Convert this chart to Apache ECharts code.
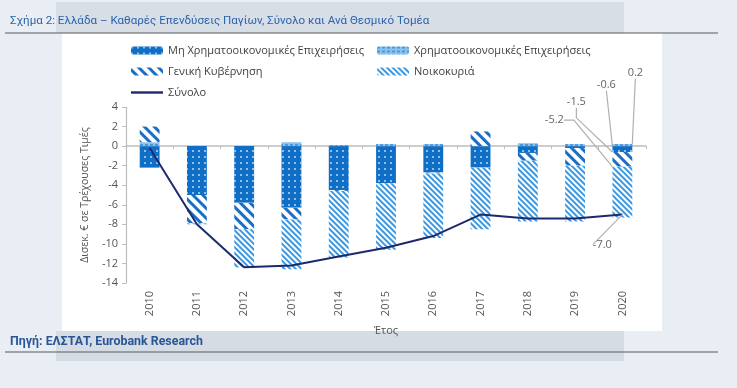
<!DOCTYPE html>
<html><head><meta charset="utf-8">
<script src="https://cdn.jsdelivr.net/npm/echarts@6/dist/echarts.min.js"></script>
<style>html,body{margin:0;padding:0;background:#e9eef5}#c{width:737px;height:388px}</style>
</head><body><div id="c"></div>
<script>
const years = ['2010','2011','2012','2013','2014','2015','2016','2017','2018','2019','2020'];
const nonFinancial = [-2.2,-5.0,-5.8,-6.3,-4.5,-3.8,-2.7,-2.2,-0.7,-0.2,-0.6];
const financial    = [0.4,0.0,0.0,0.4,0.1,0.2,0.2,0.0,0.3,0.2,0.2];
const government   = [1.6,-2.9,-2.7,-1.2,-0.1,0.0,-0.1,1.5,-0.8,-1.8,-1.5];
const households   = [0.0,-0.1,-3.9,-5.1,-6.8,-6.8,-6.6,-6.3,-6.2,-5.7,-5.2];
const total        = [-0.2,-8.0,-12.4,-12.2,-11.3,-10.4,-9.2,-7.0,-7.4,-7.4,-7.0];
const yMin = -14, yMax = 4, yStep = 2;
const names = ['Μη Χρηματοοικονομικές Επιχειρήσεις','Χρηματοοικονομικές Επιχειρήσεις','Γενική Κυβέρνηση','Νοικοκυριά','Σύνολο'];

const FONT = "'Open Sans', 'Noto Sans', sans-serif";
const LAST = years.length - 1;
function withLast(arr){
  return arr.map((v,i)=> i===LAST ? {value:v, label:{show:true}} : v);
}
// label offsets relative to the labelled element (label placement only)
const offs = [[-16,-64],[13,-72],[-46,-57],[-68,-72]];
function layoutFor(k){
  return function(p){
    if (p.dataIndex !== LAST) return {};
    const r = p.rect;
    return {x: r.x + r.width/2 + offs[k][0], y: r.y + r.height/2 + offs[k][1], align:'center', verticalAlign:'middle'};
  };
}
const lbl = {show:false, color:'#666', fontSize:11, fontFamily:FONT, formatter: p => (+p.value).toFixed(1)};
const lblLine = {show:true, length2:10, lineStyle:{color:'#b0b0b0', width:1.2}};
const lblLineStraight = {show:true, length2:0, lineStyle:{color:'#b0b0b0', width:1.2}};
const rot = Math.PI/4;

const chart = echarts.init(document.getElementById('c'), null, {renderer:'canvas'});
chart.setOption({
  backgroundColor:'#e9eef5',
  animation:false,
  graphic:[
    {type:'rect', shape:{x:56,y:2,width:568,height:31}, style:{fill:'#d8dee6'}, silent:true, z:-10},
    {type:'rect', shape:{x:62,y:33,width:600,height:298}, style:{fill:'#ffffff'}, silent:true, z:-10},
    {type:'rect', shape:{x:56,y:331,width:568,height:30}, style:{fill:'#d6dce4'}, silent:true, z:-10},
    {type:'line', shape:{x1:5,y1:33,x2:718,y2:33}, style:{stroke:'#5a5a5a', lineWidth:1.2}, silent:true, z:-5},
    {type:'line', shape:{x1:5,y1:352,x2:718,y2:352}, style:{stroke:'#5a5a5a', lineWidth:1.2}, silent:true, z:-5}
  ],
  title:[
    {text:'Σχήμα 2: Ελλάδα – Καθαρές Επενδύσεις Παγίων, Σύνολο και Ανά Θεσμικό Τομέα', left:5, top:10,
     textStyle:{fontSize:11.6, fontWeight:'normal', color:'#2b63ac', fontFamily:"Roboto, 'Open Sans', sans-serif"}},
    {text:'Πηγή: ΕΛΣΤΑΤ, Eurobank Research', left:5, top:331,
     textStyle:{fontSize:12.4, fontWeight:'bold', color:'#2a5596', fontFamily:"Roboto, 'Open Sans', sans-serif"}}
  ],
  legend:[
    {data:[names[0],names[2],{name:names[4], icon:'path://M0,0H32V2.4H0Z'}], orient:'vertical', left:126, top:40, itemWidth:32, itemHeight:8, itemGap:10,
     textStyle:{fontSize:11, color:'#404040', fontFamily:FONT}},
    {data:[names[1],names[3]], orient:'vertical', left:372, top:40, itemWidth:32, itemHeight:8, itemGap:10,
     textStyle:{fontSize:11, color:'#404040', fontFamily:FONT}}
  ],
  grid:{left:126, right:91, top:107, bottom:105},
  xAxis:[
    {type:'category', data:years, position:'bottom',
     axisLine:{show:false, onZero:false}, axisTick:{show:false},
     axisLabel:{rotate:90, margin:8, fontSize:11, color:'#555', fontFamily:FONT},
     name:'Έτος', nameLocation:'middle', nameGap:42, nameTextStyle:{fontSize:11, color:'#555', fontFamily:FONT}},
    {type:'category', data:years, position:'bottom',
     axisLine:{show:true, onZero:true, lineStyle:{color:'#bdbdbd', width:1.5}},
     axisTick:{show:true, length:3, lineStyle:{color:'#bdbdbd'}},
     axisLabel:{show:false}}
  ],
  yAxis:{type:'value', min:yMin, max:yMax, interval:yStep,
    axisLine:{show:true, lineStyle:{color:'#bdbdbd', width:1.2}},
    axisTick:{show:true, length:4, lineStyle:{color:'#bdbdbd'}},
    splitLine:{show:false},
    axisLabel:{fontSize:11, color:'#555', margin:8, fontFamily:FONT},
    name:'Δισεκ. € σε Τρέχουσες Τιμές', nameLocation:'middle', nameGap:22, nameRotate:90,
    nameTextStyle:{fontSize:10.5, color:'#555', fontFamily:FONT}},
  series:[
    {name:names[0], type:'bar', stack:'s', barWidth:'42%', data:withLast(nonFinancial),
     itemStyle:{color:'#0f6fc6', decal:{symbol:'rect', symbolSize:1, dashArrayX:[1.5,3.5], dashArrayY:[1.5,3.5], color:'rgba(255,255,255,0.55)'}},
     label:lbl, labelLine:lblLineStraight, labelLayout:layoutFor(0)},
    {name:names[1], type:'bar', stack:'s', data:withLast(financial),
     itemStyle:{color:'#8ec2ec', decal:{symbol:'rect', symbolSize:1, dashArrayX:[3,2], dashArrayY:[1.5,2], color:'#4a98dc'}},
     label:lbl, labelLine:lblLineStraight, labelLayout:layoutFor(1)},
    {name:names[2], type:'bar', stack:'s', data:withLast(government),
     itemStyle:{color:'#ffffff', decal:{symbol:'rect', symbolSize:1, dashArrayX:[1,0], dashArrayY:[3,4], rotation:rot, color:'#1a6fc4'}},
     label:lbl, labelLine:lblLine, labelLayout:layoutFor(2)},
    {name:names[3], type:'bar', stack:'s', data:withLast(households),
     itemStyle:{color:'#ffffff', decal:{symbol:'rect', symbolSize:1, dashArrayX:[1,0], dashArrayY:[1.6,1.6], rotation:rot, color:'#3a98e2'}},
     label:lbl, labelLine:lblLine, labelLayout:layoutFor(3)},
    {name:names[4], type:'line', data:withLast(total), symbol:'circle', symbolSize:0, showSymbol:true,
     lineStyle:{color:'#1b2a6b', width:2}, itemStyle:{color:'#1b2a6b'}, z:5,
     label:{show:false, color:'#666', fontSize:11, fontFamily:FONT, formatter:p=>(+p.value).toFixed(1)},
     labelLine:{show:true, lineStyle:{color:'#b0b0b0', width:1.2}},
     labelLayout:function(p){ if(p.dataIndex!==LAST) return {}; const r=p.rect; return {x:r.x+r.width/2-20, y:r.y+r.height/2+30, align:'center', verticalAlign:'middle'}; }}
  ]
});
</script></body></html>
